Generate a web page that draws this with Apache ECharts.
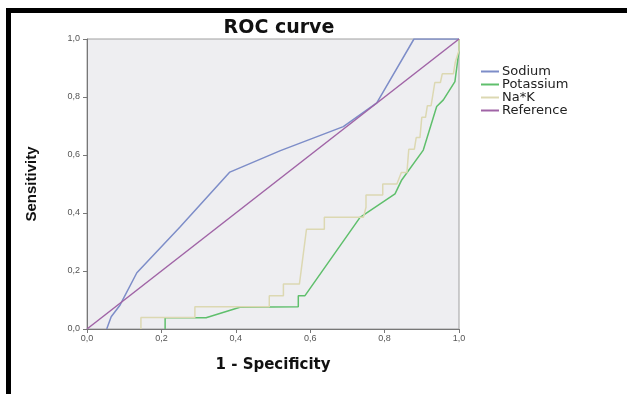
<!DOCTYPE html>
<html>
<head>
<meta charset="utf-8">
<script src="https://cdn.jsdelivr.net/npm/echarts@6/dist/echarts.min.js"></script>
<style>
  html, body { margin: 0; padding: 0; background: #fff; }
  #roc { width: 627px; height: 394px; }
</style>
</head>
<body>
<div id="roc"></div>
<script>
// ROC curve - points as [1 - specificity, sensitivity]
let sodium = [
  [0.053, 0], [0.065, 0.042], [0.089, 0.083], [0.134, 0.194], [0.25, 0.352],
  [0.384, 0.541], [0.52, 0.615], [0.689, 0.698], [0.779, 0.78], [0.879, 1], [1, 1]
];
let potassium = [
  [0.21, 0], [0.21, 0.039], [0.32, 0.039], [0.411, 0.075], [0.568, 0.077],
  [0.568, 0.115], [0.586, 0.115], [0.734, 0.385], [0.828, 0.466], [0.846, 0.514],
  [0.904, 0.617], [0.94, 0.767], [0.958, 0.79], [0.989, 0.853], [1, 0.96], [1, 1]
];
let naK = [
  [0.145, 0], [0.145, 0.04], [0.29, 0.04], [0.29, 0.077], [0.49, 0.077],
  [0.49, 0.115], [0.528, 0.115], [0.528, 0.155], [0.571, 0.155], [0.59, 0.344],
  [0.638, 0.344], [0.638, 0.385], [0.743, 0.385], [0.75, 0.42], [0.75, 0.462],
  [0.795, 0.462], [0.795, 0.5], [0.833, 0.5], [0.845, 0.54], [0.86, 0.54],
  [0.865, 0.62], [0.88, 0.62], [0.885, 0.66], [0.895, 0.66], [0.9, 0.73],
  [0.91, 0.73], [0.915, 0.77], [0.925, 0.77], [0.935, 0.85], [0.95, 0.85],
  [0.955, 0.88], [0.985, 0.88], [0.99, 0.92], [1, 0.96], [1, 1]
];
let reference = [[0, 0], [1, 1]];
let seriesNames = ['Sodium', 'Potassium', 'Na*K', 'Reference'];
let colorList = ['#7d8dc8', '#5fbf6c', '#dcd8b2', '#a064a6'];

function tickFmt(v) {
  return v.toFixed(1).replace('.', ',');
}

let axisCommon = {
  type: 'value',
  min: 0,
  max: 1,
  interval: 0.2,
  nameLocation: 'middle',
  axisLine: { show: true, lineStyle: { color: '#777', width: 1 } },
  axisTick: { show: true, length: 4, lineStyle: { color: '#777' } },
  splitLine: { show: false },
  axisLabel: {
    formatter: tickFmt,
    color: '#555',
    fontSize: 9,
    fontFamily: 'Liberation Sans'
  }
};

let rocOption = {
  animation: false,
  color: colorList,
  title: {
    text: 'ROC curve',
    left: 274,
    textAlign: 'center',
    top: 14,
    textStyle: { fontFamily: 'DejaVu Sans', fontWeight: 'bold', fontSize: 19, color: '#111' }
  },
  grid: {
    left: 87,
    right: 168,
    top: 39,
    bottom: 65,
    show: true,
    backgroundColor: '#eeeef1',
    borderColor: '#a0a0a0',
    borderWidth: 1
  },
  legend: {
    orient: 'vertical',
    left: 476,
    top: 60,
    icon: 'rect',
    itemWidth: 18,
    itemHeight: 2,
    itemGap: 0,
    data: seriesNames,
    textStyle: { fontFamily: 'DejaVu Sans', fontSize: 13, lineHeight: 13, color: '#222', padding: [0, 0, 0, -2] }
  },
  xAxis: Object.assign({}, axisCommon, {
    name: '1 - Specificity',
    nameGap: 29,
    nameTextStyle: { fontFamily: 'DejaVu Sans', fontWeight: 'bold', fontSize: 15, color: '#111' },
    axisLabel: Object.assign({}, axisCommon.axisLabel, { margin: 5 })
  }),
  yAxis: Object.assign({}, axisCommon, {
    name: 'Sensitivity',
    nameGap: 48,
    nameTextStyle: { fontFamily: 'Liberation Sans', fontWeight: 'bold', fontSize: 15, color: '#111' },
    axisLabel: Object.assign({}, axisCommon.axisLabel, { margin: 7 })
  }),
  graphic: [
    { type: 'rect', shape: { x: 6, y: 8, width: 621, height: 5 }, style: { fill: '#000' } },
    { type: 'rect', shape: { x: 6, y: 8, width: 5, height: 386 }, style: { fill: '#000' } }
  ],
  series: [
    { name: 'Sodium', type: 'line', data: sodium, showSymbol: false, lineStyle: { width: 1.5 } },
    { name: 'Potassium', type: 'line', data: potassium, showSymbol: false, lineStyle: { width: 1.5 } },
    { name: 'Na*K', type: 'line', data: naK, showSymbol: false, lineStyle: { width: 1.5 } },
    { name: 'Reference', type: 'line', data: reference, showSymbol: false, lineStyle: { width: 1.5 } }
  ]
};

var rocDom = document.getElementById('roc');
var rocChart = echarts.init(rocDom);
rocChart.setOption(rocOption);
</script>
</body>
</html>
